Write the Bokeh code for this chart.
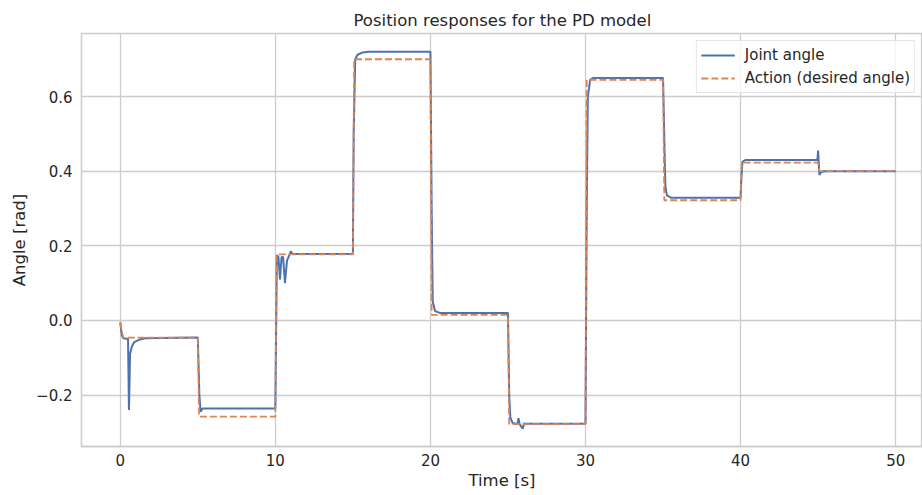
from bokeh.plotting import figure
from bokeh.models import Range1d, FixedTicker, CustomJSTickFormatter, Legend, LegendItem
from bokeh.embed import file_html
from bokeh.resources import INLINE

# ---- data ----
t_joint = [0.0, 0.1, 0.2, 0.5, 0.56, 0.6, 0.63, 0.75, 0.9, 1.2, 1.6, 5.0,
           5.1, 5.18, 5.3, 10.0,
           10.1, 10.2, 10.3, 10.4, 10.5, 10.62, 10.75, 10.9, 11.0, 11.1, 15.0,
           15.05, 15.15, 15.3, 15.6, 16.0, 20.0,
           20.08, 20.15, 20.3, 20.6, 25.0,
           25.08, 25.15, 25.3, 25.6, 25.68, 25.75, 25.95, 26.05, 26.2, 30.0,
           30.08, 30.15, 30.3, 30.5, 35.0,
           35.05, 35.1, 35.15, 35.25, 35.5, 40.0,
           40.05, 40.12, 40.3, 44.95,
           45.0, 45.03, 45.08, 45.2, 45.4, 50.0]
joint_angle = [-0.005, -0.04, -0.048, -0.05, -0.24, -0.16, -0.09, -0.07, -0.058, -0.052, -0.048, -0.046,
               -0.2, -0.245, -0.236, -0.236,
               0.175, 0.17, 0.11, 0.17, 0.17, 0.10, 0.16, 0.175, 0.185, 0.178, 0.178,
               0.5, 0.70, 0.712, 0.718, 0.72, 0.72,
               0.3, 0.05, 0.025, 0.02, 0.02,
               -0.2, -0.26, -0.275, -0.278, -0.262, -0.278, -0.29, -0.276, -0.277, -0.277,
               0.3, 0.6, 0.645, 0.65, 0.65,
               0.55, 0.45, 0.36, 0.335, 0.329, 0.329,
               0.38, 0.425, 0.43, 0.43,
               0.455, 0.43, 0.39, 0.398, 0.40, 0.40]

t_action = [0.0, 0.1, 0.2, 5.0, 5.08, 10.0, 10.08, 15.0, 15.08, 20.0, 20.08,
            25.0, 25.08, 30.0, 30.08, 35.0, 35.08, 40.0, 40.08, 45.0, 45.08, 50.0]
action = [-0.005, -0.03, -0.046, -0.046, -0.258, -0.258, 0.177, 0.177, 0.700, 0.700, 0.015,
          0.015, -0.278, -0.278, 0.645, 0.645, 0.322, 0.322, 0.423, 0.423, 0.400, 0.400]

x_ticks = [0, 10, 20, 30, 40, 50]
y_ticks = [-0.2, 0.0, 0.2, 0.4, 0.6]

FONT = "DejaVu Sans"
TXT = "#262626"
GRID = "#cccccc"

p = figure(width=922, height=495, output_backend="svg", toolbar_location=None,
           x_range=Range1d(-2.5, 51.73), y_range=Range1d(-0.338, 0.769),
           min_border_left=81, min_border_right=0, min_border_top=33, min_border_bottom=49)

p.title.text = "Position responses for the PD model"
p.title.text_font = FONT
p.title.text_font_size = "16.5px"
p.title.text_font_style = "normal"
p.title.text_color = TXT
p.title.align = "left"
p.title.offset = 272
p.title.standoff = 8

r_joint = p.line(t_joint, joint_angle, line_color="#4C72B0", line_width=2)
r_act = p.line(t_action, action, line_color="#DD8452", line_width=1.8, line_dash="7 3")

for ax in (p.xaxis[0], p.yaxis[0]):
    ax.major_tick_out = 0
    ax.major_tick_in = 0
    ax.minor_tick_out = 0
    ax.minor_tick_in = 0
    ax.axis_line_color = GRID
    ax.axis_line_width = 1.3
    ax.major_label_text_font = FONT
    ax.major_label_text_font_size = "15px"
    ax.major_label_text_color = TXT
    ax.axis_label_text_font = FONT
    ax.axis_label_text_font_size = "16.5px"
    ax.axis_label_text_font_style = "normal"
    ax.axis_label_text_color = TXT

p.xaxis.ticker = FixedTicker(ticks=x_ticks)
p.yaxis.ticker = FixedTicker(ticks=y_ticks)
p.yaxis.formatter = CustomJSTickFormatter(code="return tick.toFixed(1).replace('-', '\u2212');")
p.xaxis.axis_label = "Time [s]"
p.yaxis.axis_label = "Angle [rad]"
p.xaxis.major_label_standoff = 7
p.yaxis.major_label_standoff = 9
p.xaxis.axis_label_standoff = 2
p.yaxis.axis_label_standoff = 4

p.xgrid.grid_line_color = GRID
p.ygrid.grid_line_color = GRID
p.xgrid.grid_line_width = 1.3
p.ygrid.grid_line_width = 1.3
p.outline_line_color = GRID
p.outline_line_width = 1.3

legend = Legend(items=[LegendItem(label="Joint angle", renderers=[r_joint]),
                       LegendItem(label="Action (desired angle)", renderers=[r_act])],
                location="top_right")
legend.label_text_font = FONT
legend.label_text_font_size = "15px"
legend.label_text_color = TXT
legend.border_line_color = GRID
legend.border_line_width = 1
legend.background_fill_alpha = 0.8
legend.glyph_width = 34
legend.label_standoff = 10
legend.spacing = 3
legend.padding = 4
legend.margin = 7
legend.label_height = 20
p.add_layout(legend)

open("out.html", "w").write(file_html(p, INLINE))
